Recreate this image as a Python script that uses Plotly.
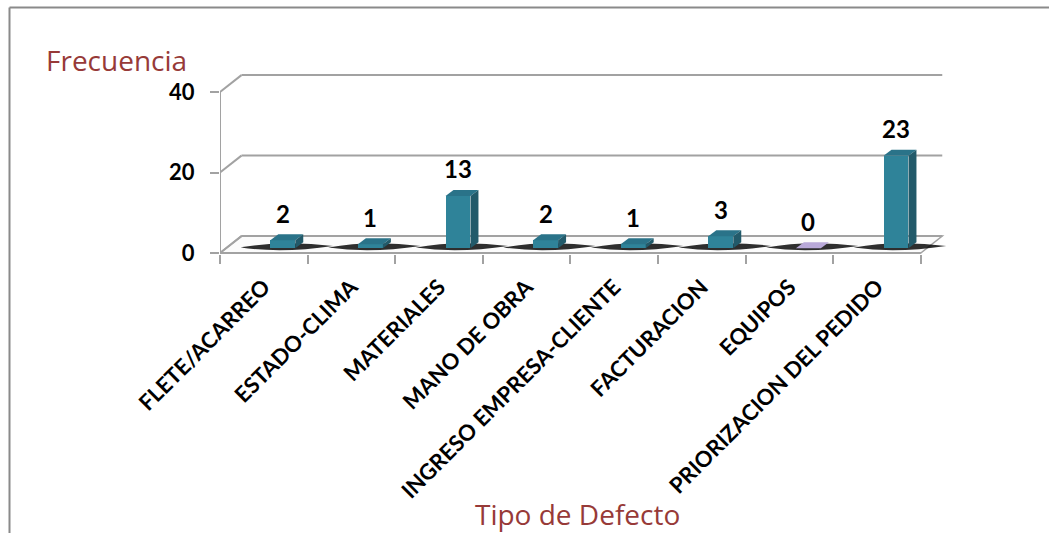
import plotly.graph_objects as go

# Defect frequency by type
categorias = [
    "FLETE/ACARREO",
    "ESTADO-CLIMA",
    "MATERIALES",
    "MANO DE OBRA",
    "INGRESO EMPRESA-CLIENTE",
    "FACTURACION",
    "EQUIPOS",
    "PRIORIZACION DEL PEDIDO",
]
frecuencia = [2, 1, 13, 2, 1, 3, 0, 23]
y_ticks = [0, 20, 40]

W, H = 1049, 533
M_L, M_R, M_T, M_B = 220, 102, 68, 279
PX_CAT = 87.6      # pixels per category slot
PX_UNIT = 4.025    # pixels per frequency unit
plot_w = W - M_L - M_R
plot_h = H - M_T - M_B
x_range = [-0.5, -0.5 + plot_w / PX_CAT]
y_lo = -(H - M_B - 253) / PX_UNIT
y_range = [y_lo, y_lo + plot_h / PX_UNIT]

# pseudo-3D geometry (in axis units)
WALL_DX, WALL_DY = 0.245, 4.2     # depth of the floor / side wall
BAR_SHIFT = 0.217                 # bar centre offset from slot centre
BAR_W = 0.285
BAR_BASE = 1.17
SIDE_DX, SIDE_DY = 0.091, 1.5

TEAL = "#2F8399"
TEAL_TOP = "#2A7389"
TEAL_SIDE = "#225A6A"
GRID = "#A2A2A2"
TITLE_RED = "#973A38"


def px_to_paper_x(px):
    return (px - M_L) / plot_w


def px_to_paper_y(py):
    return (H - M_B - py) / plot_h


n = len(categorias)
x_end = n - 0.5

shapes = []
# floor
shapes.append(dict(
    type="path", xref="x", yref="y", layer="below",
    path=f"M -0.5,0 L {x_end},0 L {x_end + WALL_DX},{WALL_DY} L {-0.5 + WALL_DX},{WALL_DY} Z",
    fillcolor="#FBFBFB", line=dict(color=GRID, width=1.5),
))
# side-wall diagonals and back-wall gridlines
for v in y_ticks:
    shapes.append(dict(type="line", xref="x", yref="y", layer="below",
                       x0=-0.5, y0=v, x1=-0.5 + WALL_DX, y1=v + WALL_DY,
                       line=dict(color=GRID, width=2)))
    shapes.append(dict(type="line", xref="x", yref="y", layer="below",
                       x0=-0.5 + WALL_DX, y0=v + WALL_DY, x1=x_end + WALL_DX, y1=v + WALL_DY,
                       line=dict(color=GRID, width=2)))
# front axes
shapes.append(dict(type="line", xref="x", yref="y", layer="below",
                   x0=-0.5, y0=0, x1=-0.5, y1=y_ticks[-1],
                   line=dict(color=GRID, width=2)))
shapes.append(dict(type="line", xref="x", yref="y", layer="below",
                   x0=-0.5, y0=0, x1=x_end, y1=0,
                   line=dict(color=GRID, width=2)))

# floor shadows, top faces and side faces of each bar
for i, v in enumerate(frecuencia):
    cx = i + BAR_SHIFT
    left = cx - BAR_W / 2
    right = cx + BAR_W / 2
    top = BAR_BASE + v
    b = BAR_BASE + 0.4
    shapes.append(dict(
        type="path", xref="x", yref="y", layer="below",
        path=(f"M {left - 0.34},{b - 0.2} Q {cx},{b + 1.7} {right + SIDE_DX + 0.34},{b + 0.2} "
              f"Q {cx},{b - 1.7} {left - 0.34},{b - 0.2} Z"),
        fillcolor="rgba(0,0,0,0.82)", line=dict(width=0),
    ))
    top_col = TEAL_TOP if v > 0 else "#B9A9D9"
    shapes.append(dict(
        type="path", xref="x", yref="y", layer="above",
        path=(f"M {left},{top} L {right},{top} L {right + SIDE_DX},{top + SIDE_DY} "
              f"L {left + SIDE_DX},{top + SIDE_DY} Z"),
        fillcolor=top_col, line=dict(width=0),
    ))
    if v > 0:
        shapes.append(dict(
            type="path", xref="x", yref="y", layer="above",
            path=(f"M {right},{BAR_BASE} L {right + SIDE_DX},{BAR_BASE + SIDE_DY} "
                  f"L {right + SIDE_DX},{top + SIDE_DY} L {right},{top} Z"),
            fillcolor=TEAL_SIDE, line=dict(width=0),
        ))

# outer chart frame
shapes.append(dict(type="line", xref="paper", yref="paper",
                   x0=px_to_paper_x(9.5), y0=px_to_paper_y(7.5),
                   x1=px_to_paper_x(W + 5), y1=px_to_paper_y(7.5),
                   line=dict(color="#8A8A8A", width=2)))
shapes.append(dict(type="line", xref="paper", yref="paper",
                   x0=px_to_paper_x(9.5), y0=px_to_paper_y(7.5),
                   x1=px_to_paper_x(9.5), y1=px_to_paper_y(H + 5),
                   line=dict(color="#8A8A8A", width=2)))

fig = go.Figure()
fig.add_trace(go.Bar(
    x=categorias, y=frecuencia, base=BAR_BASE,
    width=BAR_W, offset=BAR_SHIFT - BAR_W / 2,
    marker=dict(color=TEAL, line=dict(width=0)),
    hoverinfo="x+y", showlegend=False,
))

label_font = dict(family="Lato", size=24, color="black", weight="bold")
annotations = []
for i, v in enumerate(frecuencia):
    annotations.append(dict(
        x=i + BAR_SHIFT, y=BAR_BASE + v + SIDE_DY, xref="x", yref="y",
        text=str(v), showarrow=False, xanchor="center", yanchor="middle",
        yshift=21, font=label_font,
    ))
annotations.append(dict(
    x=px_to_paper_x(44), y=px_to_paper_y(60), xref="paper", yref="paper",
    text="Frecuencia", showarrow=False, xanchor="left", yanchor="middle",
    font=dict(family="Open Sans", size=28, color=TITLE_RED),
))
annotations.append(dict(
    x=px_to_paper_x(577.5), y=px_to_paper_y(514), xref="paper", yref="paper",
    text="Tipo de Defecto", showarrow=False, xanchor="center", yanchor="middle",
    font=dict(family="Open Sans", size=28, color=TITLE_RED),
))

fig.update_layout(
    width=W, height=H,
    margin=dict(l=M_L, r=M_R, t=M_T, b=M_B, autoexpand=False),
    paper_bgcolor="white", plot_bgcolor="white",
    shapes=shapes, annotations=annotations,
    bargap=0,
    xaxis=dict(
        type="category", range=x_range, tickson="boundaries",
        ticks="outside", ticklen=9, tickwidth=2, tickcolor=GRID,
        ticklabelstandoff=15,
        showgrid=False, showline=False, zeroline=False,
        tickangle=-45, tickfont=dict(family="Lato", size=22, color="black", weight="bold"),
        fixedrange=True,
    ),
    yaxis=dict(
        range=y_range, tickmode="array", tickvals=y_ticks,
        ticks="outside", ticklen=9, tickwidth=2, tickcolor=GRID,
        ticklabelstandoff=11,
        showgrid=False, showline=False, zeroline=False,
        tickfont=dict(family="Lato", size=22, color="black", weight="bold"),
        fixedrange=True,
    ),
)

fig.write_html("out.html")
